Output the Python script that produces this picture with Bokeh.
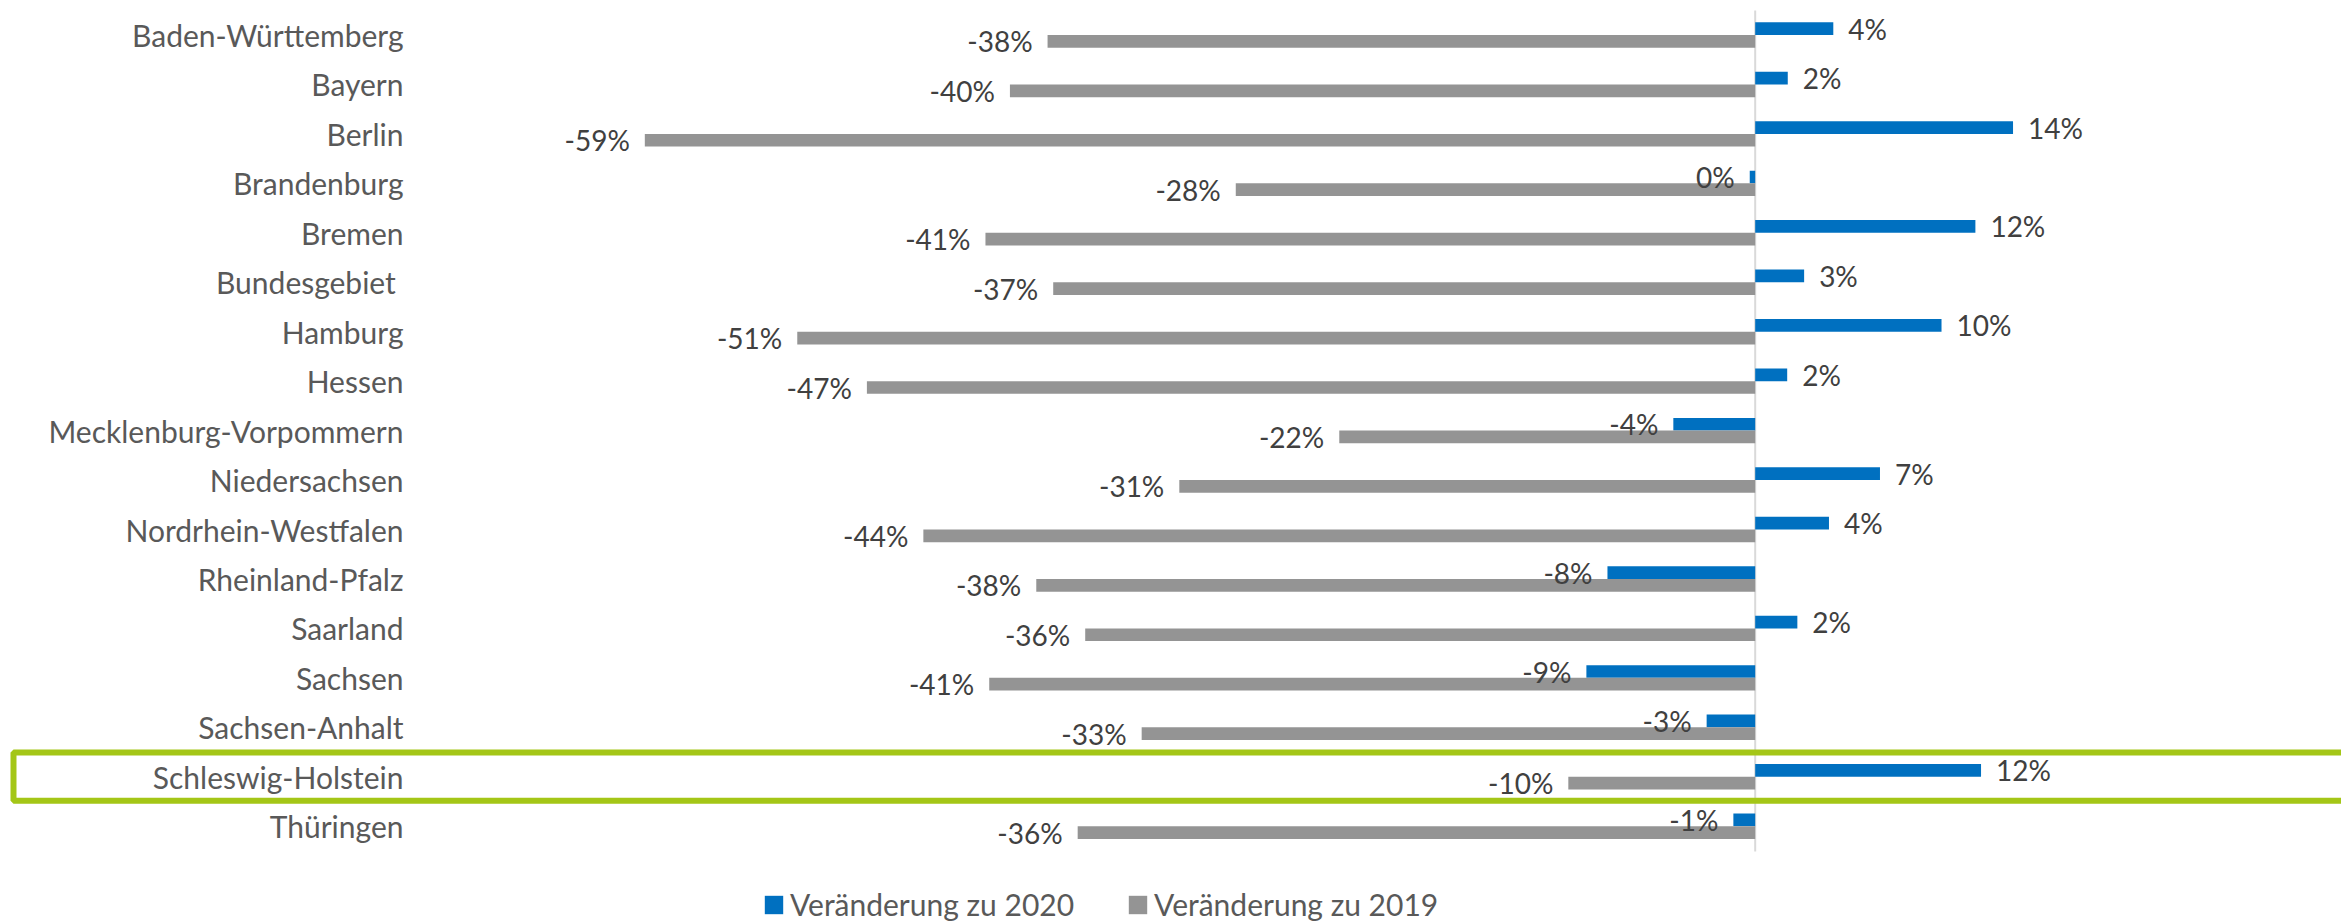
from bokeh.plotting import figure
from bokeh.models import Range1d, ColumnDataSource, Legend, LegendItem
from bokeh.core.properties import value
from bokeh.embed import file_html
from bokeh.resources import INLINE

# ---------------- data ----------------
categories = [
    "Baden-Württemberg", "Bayern", "Berlin", "Brandenburg", "Bremen",
    "Bundesgebiet ", "Hamburg", "Hessen", "Mecklenburg-Vorpommern",
    "Niedersachsen", "Nordrhein-Westfalen", "Rheinland-Pfalz", "Saarland",
    "Sachsen", "Sachsen-Anhalt", "Schleswig-Holstein", "Thüringen",
]
change_2020 = [4.15, 1.73, 13.7, -0.29, 11.7, 2.6, 9.9, 1.7, -4.35, 6.63,
               3.92, -7.85, 2.24, -8.97, -2.58, 12.0, -1.16]
change_2019 = [-37.6, -39.6, -59.0, -27.6, -40.9, -37.3, -50.9, -47.2, -22.1,
               -30.6, -44.2, -38.2, -35.6, -40.7, -32.6, -9.93, -36.0]
series_names = ["Veränderung zu 2020", "Veränderung zu 2019"]
highlight = "Schleswig-Holstein"

# ---------------- layout / style ----------------
W, H = 2341, 921
PX_PER_PCT = 18.82
ZERO_PX = 1754.7
ROW_PX = 49.45
ROW0_PX = 34.5
BAR_H = 12.7 / ROW_PX

BLUE = "#0070C0"
GRAY = "#949494"
GREEN = "#A4C617"
FONT = "Lato"
FS = "30px"
FS_DATA = "28px"

x_start = -ZERO_PX / PX_PER_PCT
x_end = (W - ZERO_PX) / PX_PER_PCT
y_top = -ROW0_PX / ROW_PX
y_bottom = (H - ROW0_PX) / ROW_PX

p = figure(width=W, height=H, output_backend="svg", toolbar_location=None,
           x_range=Range1d(x_start, x_end), y_range=Range1d(y_bottom, y_top),
           x_axis_type=None, y_axis_type=None, min_border=0)
p.outline_line_color = None
p.background_fill_color = "white"
p.border_fill_color = "white"

idx = list(range(len(categories)))

# zero line
p.segment(x0=[0], y0=[-0.495], x1=[0], y1=[len(categories) - 0.49],
          line_color="#D9D9D9", line_width=2)

src_b = ColumnDataSource(dict(y=[i - BAR_H / 2 for i in idx], v=change_2020))
src_g = ColumnDataSource(dict(y=[i + BAR_H / 2 for i in idx], v=change_2019))

r_b = p.hbar(y="y", left=0, right="v", height=BAR_H, source=src_b,
             fill_color=BLUE, line_color=None)
r_g = p.hbar(y="y", left=0, right="v", height=BAR_H, source=src_g,
             fill_color=GRAY, line_color=None)

# data labels
def add_labels(ys, vals):
    pos = [k for k, v in enumerate(vals) if v >= 0]
    neg = [k for k, v in enumerate(vals) if v < 0]
    for group, align, off in ((pos, "left", 15), (neg, "right", -15)):
        if not group:
            continue
        s = ColumnDataSource(dict(x=[vals[k] for k in group],
                                  y=[ys[k] for k in group],
                                  t=[f"{int(round(vals[k]))}%" for k in group]))
        p.text(x="x", y="y", text="t", source=s, text_align=align,
               text_baseline="middle", x_offset=off, text_color="#404040",
               text_font=value(FONT), text_font_size=FS_DATA)

add_labels(src_b.data["y"], change_2020)
add_labels(src_g.data["y"], change_2019)

# category labels
label_x = (403 - ZERO_PX) / PX_PER_PCT
p.text(x=[label_x] * len(categories), y=idx, text=categories,
       text_align="right", text_baseline="middle", text_color="#595959",
       text_font=value(FONT), text_font_size=FS)

# highlight box
hi = categories.index(highlight)
p.quad(left=[(13 - ZERO_PX) / PX_PER_PCT], right=[x_end + 10],
       top=[hi - 0.491], bottom=[hi + 0.486],
       fill_color=None, line_color=GREEN, line_width=6)

legend = Legend(items=[LegendItem(label=series_names[0], renderers=[r_b]),
                       LegendItem(label=series_names[1], renderers=[r_g])],
                location=(762, -1), orientation="horizontal",
                glyph_width=23, glyph_height=23, label_standoff=5, spacing=52,
                padding=0, margin=0, border_line_color=None,
                background_fill_alpha=0, label_text_font=FONT,
                label_text_font_size=FS, label_text_color="#595959")
p.add_layout(legend)

open("out.html", "w").write(file_html(p, INLINE))
